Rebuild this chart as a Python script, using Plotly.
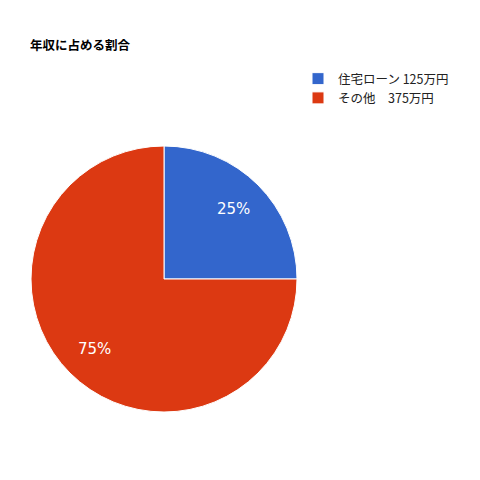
import math
import plotly.graph_objects as go

# 年収の内訳 (万円)
categories = ['住宅ローン', 'その他']
values = [125, 375]
units = '万円'
legend_labels = ['住宅ローン 125万円', 'その他　375万円']
colors = ['#3366CC', '#DC3912']

# ページ余白(8px)ぶんずらした位置 (px)
W = H = 480
cx, cy, r = 156, 271, 133

fig = go.Figure(go.Pie(
    labels=legend_labels,
    values=values,
    sort=False,
    direction='clockwise',
    rotation=0,
    marker=dict(colors=colors, line=dict(color='white', width=1)),
    textinfo='none',
    domain=dict(x=[(cx - r) / W, (cx + r) / W], y=[1 - (cy + r) / H, 1 - (cy - r) / H]),
    hoverinfo='label+percent',
))

# 割合ラベルは各スライスの中心角の方向に置く
total = sum(values)
cum = 0
for v in values:
    theta = 2 * math.pi * (cum + v / 2) / total
    cum += v
    fig.add_annotation(
        x=(cx + 0.74 * r * math.sin(theta)) / W,
        y=1 - (cy - 0.74 * r * math.cos(theta)) / H,
        xref='paper', yref='paper', showarrow=False,
        xanchor='center', yanchor='middle',
        text=f'{round(100 * v / total)}%',
        font=dict(color='white', size=15, family='DejaVu Sans'),
    )

fig.update_layout(
    width=W, height=H,
    margin=dict(l=0, r=0, t=0, b=0),
    paper_bgcolor='white',
    plot_bgcolor='white',
    font=dict(family='Noto Sans CJK JP', color='#222222', size=12.5),
    title=dict(text='<b>年収に占める割合</b>', x=22 / W, xanchor='left',
               y=1 - 38 / H, yanchor='middle',
               font=dict(size=12.5, color='black', family='Noto Sans CJK JP')),
    legend=dict(x=290 / W, xanchor='left', y=1 - 56 / H, yanchor='top',
                font=dict(size=12.5, color='#222222'), tracegroupgap=0,
                itemwidth=30),
    showlegend=True,
)

fig.write_html("out.html")
